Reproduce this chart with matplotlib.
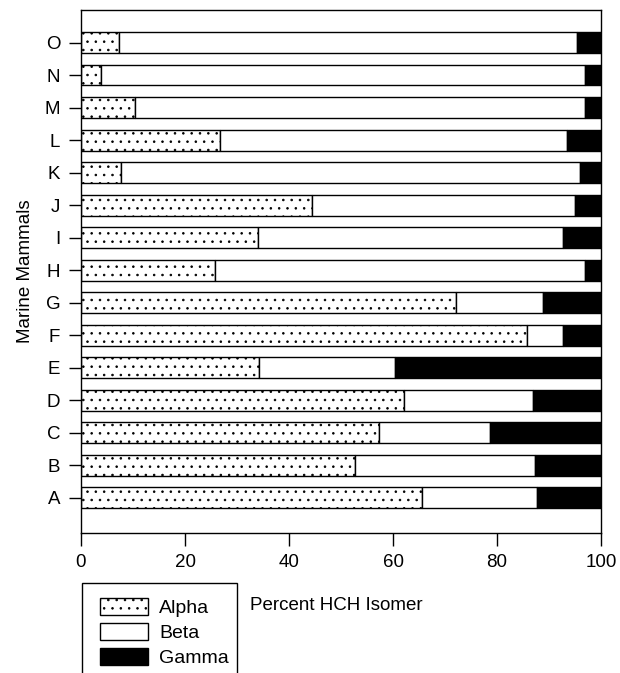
import matplotlib
matplotlib.use("Agg")
import matplotlib.pyplot as plt
from matplotlib.patches import Rectangle, Patch
import numpy as np

plt.rcParams['font.family'] = ['Liberation Sans', 'DejaVu Sans']
plt.rcParams['hatch.color'] = '#a5a5a5'
plt.rcParams['hatch.linewidth'] = 0.6

categories = ["A", "B", "C", "D", "E", "F", "G", "H", "I", "J", "K", "L", "M", "N", "O"]
alpha = [65.6, 52.7, 57.4, 62.2, 34.3, 85.7, 72.1, 25.7, 34.1, 44.5, 7.6, 26.7, 10.4, 3.8, 7.3]
beta  = [22.1, 34.6, 21.2, 24.7, 26.0, 7.0, 16.7, 71.3, 58.5, 50.5, 88.3, 66.8, 86.6, 93.1, 88.1]
gamma = [12.3, 12.7, 21.4, 13.1, 39.7, 7.3, 11.2, 3.0, 7.4, 5.0, 4.1, 6.5, 3.0, 3.1, 4.6]
xticks = [0, 20, 40, 60, 80, 100]

fig = plt.figure(figsize=(6.2, 6.73), dpi=100)
ax = fig.add_axes([81/620, 1-533/673, 520/620, 523/673])

y = np.arange(len(categories))
a = np.array(alpha); b = np.array(beta); g = np.array(gamma)
h = 0.64
ax.barh(y, a, height=h, color='white', edgecolor='black', linewidth=1.0, hatch='..', label='Alpha')
ax.barh(y, b, left=a, height=h, color='white', edgecolor='black', linewidth=1.0, label='Beta')
ax.barh(y, g, left=a+b, height=h, color='black', edgecolor='black', linewidth=1.0, label='Gamma')

ax.set_xlim(0, 100)
ax.set_ylim(-1.08, 15.0)
ax.set_xticks(xticks)
ax.set_xticklabels([str(t) for t in xticks], fontsize=13.5)
ax.set_yticks(y)
ax.set_yticklabels(categories, fontsize=13.5)
ax.tick_params(axis='both', direction='out', length=9, width=1.0, pad=6)
for s in ax.spines.values():
    s.set_linewidth(1.0)
ax.set_ylabel("Marine Mammals", fontsize=13.5, labelpad=8)

# legend box (extends past figure bottom)
fig.patches.append(Rectangle((82/620, -0.05), (237-82)/620, (1-583/673)+0.05,
                             transform=fig.transFigure, fill=False, edgecolor='black',
                             linewidth=1.0))
handles = [Patch(facecolor='white', edgecolor='black', hatch='..', label='Alpha'),
           Patch(facecolor='white', edgecolor='black', label='Beta'),
           Patch(facecolor='black', edgecolor='black', label='Gamma')]
fig.legend(handles=handles, loc='upper left', bbox_to_anchor=(86/620, 1-584/673),
           frameon=False, fontsize=14, handlelength=2.5, handleheight=1.0,
           labelspacing=0.3, handletextpad=0.55, borderpad=0.2)
fig.text(250/620, 1-605/673, "Percent HCH Isomer", fontsize=13.5, va='center', ha='left')

fig.savefig("out.png", dpi=100)
